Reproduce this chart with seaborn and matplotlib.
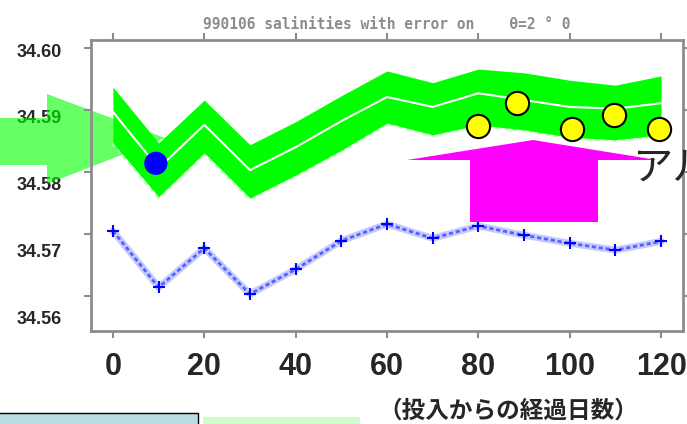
import matplotlib
matplotlib.use("Agg")
import matplotlib.pyplot as plt
import matplotlib.patches as mpatches
import seaborn as sns

# salinity time series (days after deployment)
days = [0, 10, 20, 30, 40, 50, 60, 70, 80, 90, 100, 110, 120]
sal_mean = [34.5897, 34.5806, 34.5876, 34.5803, 34.5840, 34.5882, 34.5921,
            34.5905, 34.5927, 34.5916, 34.5905, 34.5902, 34.5911]
sal_upper = [34.5937, 34.5847, 34.5916, 34.5844, 34.5881, 34.5923, 34.5963,
             34.5944, 34.5966, 34.5960, 34.5948, 34.5940, 34.5955]
sal_lower = [34.5847, 34.5760, 34.5831, 34.5758, 34.5795, 34.5835, 34.5879,
             34.5860, 34.5876, 34.5868, 34.5856, 34.5852, 34.5860]
sal_blue = [34.5705, 34.5614, 34.5677, 34.5603, 34.5643, 34.5689, 34.5716,
            34.5693, 34.5713, 34.5698, 34.5685, 34.5674, 34.5688]

# highlighted points drawn on the slide
yellow_days = [80.0, 88.4, 100.6, 109.7, 119.6]
yellow_vals = [34.5874, 34.5912, 34.5869, 34.5892, 34.5869]
blue_dot_day = [9.4]
blue_dot_val = [34.5814]

x_ticks = [0, 20, 40, 60, 80, 100, 120]
y_ticks = [34.56, 34.57, 34.58, 34.59, 34.60]
y_tick_labels = ["34.56", "34.57", "34.58", "34.59", "34.60"]

title = "990106 salinities with error on    \u03b8=2 \u00b0 0"
xlabel = "（投入からの経過日数）"
side_text = "アル"

sns.set_style("white")
plt.rcParams['font.family'] = ['Liberation Sans', 'DejaVu Sans']

W, H = 687, 424


def fx(x):
    return x / W


def fy(y):
    return 1 - y / H


fig = plt.figure(figsize=(6.87, 4.24), dpi=100)

# main matlab-style plot
ax = fig.add_axes([fx(91), fy(331), fx(683) - fx(91), fy(40) - fy(331)])
ax.set_facecolor('none')

ax.plot(days, sal_lower, color='#b4ffb4', lw=3, ls=(0, (1, 1)), zorder=1)
ax.fill_between(days, sal_lower, sal_upper, color='#00ff00', lw=0, zorder=2)
sns.lineplot(x=days, y=sal_mean, color='white', lw=1.5, ax=ax, zorder=3)

sns.lineplot(x=days, y=sal_blue, color='#c5caff', lw=5, ax=ax, zorder=3)
sns.lineplot(x=days, y=sal_blue, color='#5560ff', lw=2, ls=(0, (1.5, 1)),
             marker='+', ms=8, mew=1.5, mec='#0000ff', ax=ax, zorder=4)

sns.scatterplot(x=yellow_days, y=yellow_vals, s=280, color='#ffff00',
                edgecolor='black', linewidth=1.5, ax=ax, zorder=6)
sns.scatterplot(x=blue_dot_day, y=blue_dot_val, s=280, color='#0000ff',
                edgecolor='none', ax=ax, zorder=6)

ax.set_xlim(-4.8, 124.8)
ax.set_ylim(34.55435, 34.60129)
ax.set_xticks(x_ticks)
ax.set_xticklabels([str(t) for t in x_ticks], fontsize=22, fontweight='bold')
ax.set_yticks(y_ticks)
ax.tick_params(direction='out', length=5, width=1.5, color='#8c8c8c',
               top=True, right=True, left=True, bottom=True,
               labelleft=False, labeltop=False, labelright=False)
ax.tick_params(axis='x', pad=10)
for s in ax.spines.values():
    s.set_visible(True)
    s.set_color('#8c8c8c')
    s.set_linewidth(2)
ax.set_xlabel('')
ax.set_ylabel('')
ax.set_title(title, family='DejaVu Sans Mono', fontweight='bold',
             fontsize=10.5, color='#8c8c8c', pad=8)

# slide's own y labels (not aligned with matlab ticks)
lab_ax = fig.add_axes([fx(62), fy(317), 0.001, fy(50) - fy(317)], zorder=-2)
lab_ax.set_facecolor('none')
lab_ax.set_ylim(34.56, 34.60)
lab_ax.set_yticks(y_ticks)
lab_ax.set_yticklabels(y_tick_labels, fontsize=13, fontweight='bold')
lab_ax.set_xticks([])
lab_ax.tick_params(axis='y', length=0, pad=0)
for s in lab_ax.spines.values():
    s.set_visible(False)

# slide decorations
green_arrow = [(0, 118), (47, 118), (47, 94), (165, 138), (47, 184), (47, 165), (0, 165)]
fig.add_artist(mpatches.Polygon([(fx(a), fy(b)) for a, b in green_arrow],
                                closed=True, transform=fig.transFigure,
                                fc='#00ff00', alpha=0.6, lw=0, zorder=-1))
pink_arrow = [(470, 222), (470, 160), (407, 160), (533, 140), (657, 160), (598, 160), (598, 222)]
fig.add_artist(mpatches.Polygon([(fx(a), fy(b)) for a, b in pink_arrow],
                                closed=True, transform=fig.transFigure,
                                fc='#ff00ff', lw=0, zorder=1))

fig.add_artist(mpatches.Rectangle((fx(-2), fy(430)), fx(200), fy(413) - fy(430),
                                  transform=fig.transFigure, fc='#b9dde3',
                                  ec='black', lw=1, zorder=1))
fig.add_artist(mpatches.Rectangle((fx(203), fy(430)), fx(157), fy(417) - fy(430),
                                  transform=fig.transFigure, fc='#ccffcc',
                                  lw=0, zorder=1))

fig.text(fx(632), fy(168), side_text, fontsize=29, ha='left', va='center',
         family=['Noto Sans CJK JP', 'DejaVu Sans'], zorder=3)
fig.text(fx(508), fy(411), xlabel, fontsize=17, fontweight='bold',
         ha='center', va='center', family=['Noto Sans CJK JP', 'DejaVu Sans'], zorder=3)

fig.savefig("out.png", dpi=100)
